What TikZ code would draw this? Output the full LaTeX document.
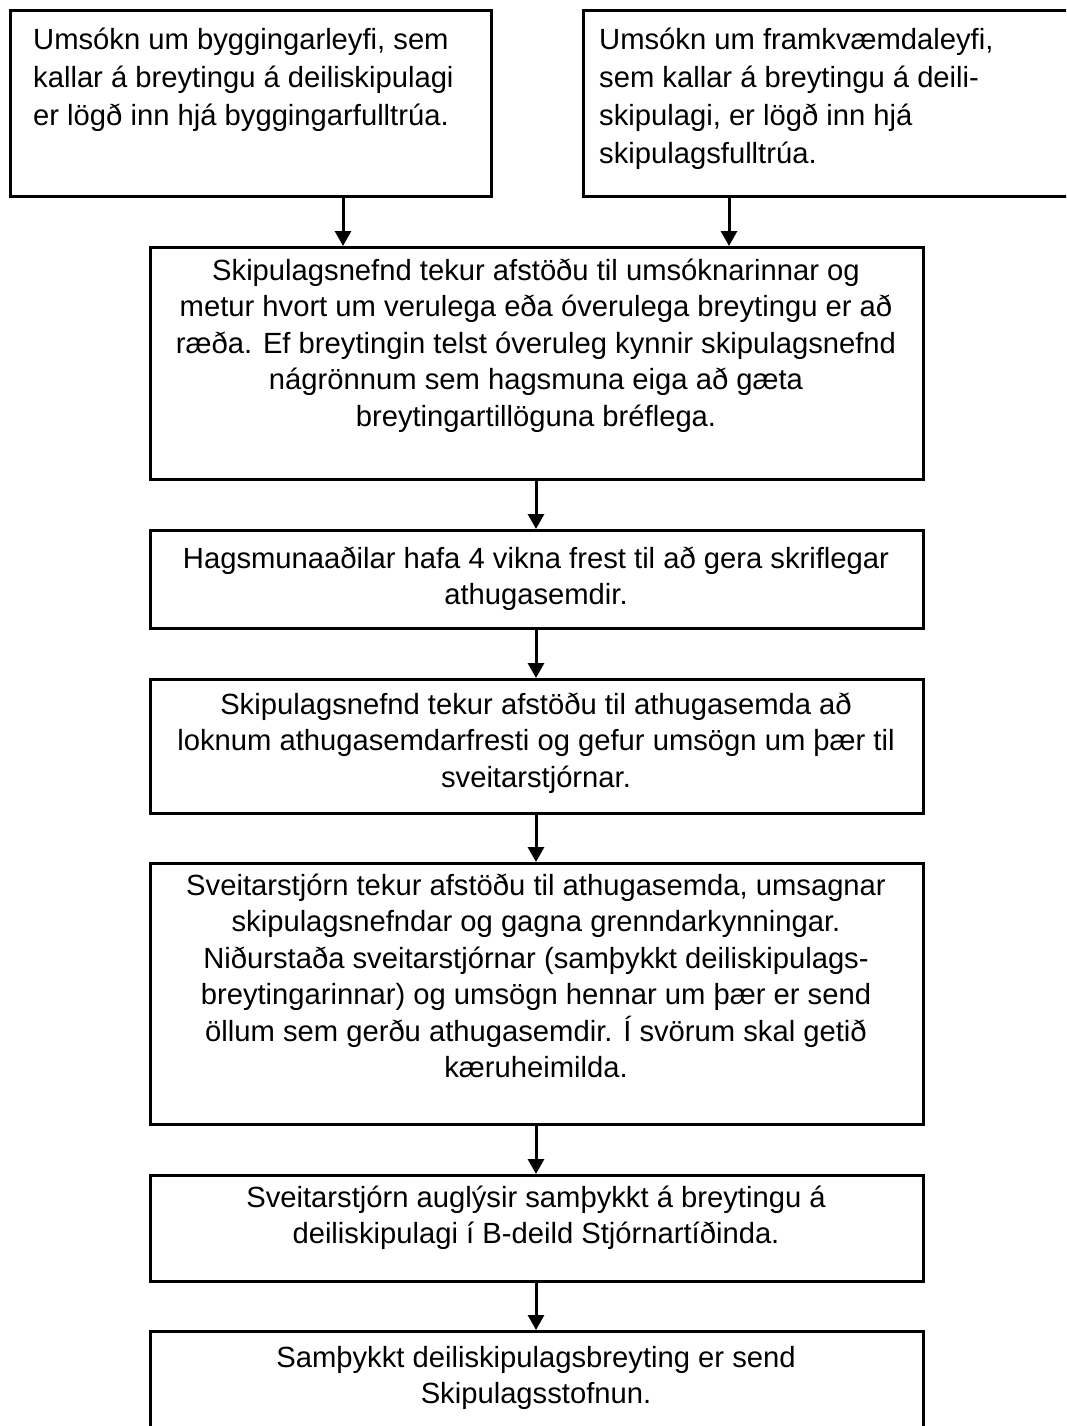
\documentclass[tikz,border=0pt]{standalone}
\usepackage{fontspec}
\setmainfont{Liberation Sans}
\usetikzlibrary{arrows.meta}
\begin{document}
\begin{tikzpicture}[x=1pt,y=-1pt,
  box/.style={draw, line width=3pt, inner sep=0pt, anchor=north west},
  txt/.style={inner sep=0pt, font=\fontsize{29.2}{36.5}\selectfont},
  toptxt/.style={inner sep=0pt, font=\fontsize{29.2}{38}\selectfont},
  arr/.style={line width=3pt, -{Triangle[width=16pt,length=15pt]}}]
\useasboundingbox (0,0) rectangle (1066,1426);
\clip (0,0) rectangle (1066,1426);
% boxes
\node[box, minimum width=481pt, minimum height=186pt] (b1) at (9,9) {};
\node[box, minimum width=500pt, minimum height=186pt] (b2) at (582,9) {};
\node[box, minimum width=773pt, minimum height=232pt] (b3) at (149,246) {};
\node[box, minimum width=773pt, minimum height=98pt]  (b4) at (149,529) {};
\node[box, minimum width=773pt, minimum height=134pt] (b5) at (149,678) {};
\node[box, minimum width=773pt, minimum height=261pt] (b6) at (149,862) {};
\node[box, minimum width=773pt, minimum height=106pt] (b7) at (149,1174) {};
\node[box, minimum width=773pt, minimum height=130pt] (b8) at (149,1330) {};
% texts
\node[toptxt, anchor=base west] (t1) at (33,50) {\begin{tabular}[t]{@{}l@{}}Umsókn um byggingarleyfi, sem\\kallar á breytingu á deiliskipulagi\\er lögð inn hjá byggingarfulltrúa.\end{tabular}};
\node[toptxt, anchor=base west] (t2) at (599,50) {\begin{tabular}[t]{@{}l@{}}Umsókn um framkvæmdaleyfi,\\sem kallar á breytingu á deili-\\skipulagi, er lögð inn hjá\\skipulagsfulltrúa.\end{tabular}};
\node[txt, anchor=base] (t3) at (536,280) {\begin{tabular}[t]{@{}c@{}}Skipulagsnefnd tekur afstöðu til umsóknarinnar og\\metur hvort um verulega eða óverulega breytingu er að\\ræða. Ef breytingin telst óveruleg kynnir skipulagsnefnd\\nágrönnum sem hagsmuna eiga að gæta\\breytingartillöguna bréflega.\end{tabular}};
\node[txt, anchor=base] (t4) at (536,568) {\begin{tabular}[t]{@{}c@{}}Hagsmunaaðilar hafa 4 vikna frest til að gera skriflegar\\athugasemdir.\end{tabular}};
\node[txt, anchor=base] (t5) at (536,714) {\begin{tabular}[t]{@{}c@{}}Skipulagsnefnd tekur afstöðu til athugasemda að\\loknum athugasemdarfresti og gefur umsögn um þær til\\sveitarstjórnar.\end{tabular}};
\node[txt, anchor=base] (t6) at (536,895) {\begin{tabular}[t]{@{}c@{}}Sveitarstjórn tekur afstöðu til athugasemda, umsagnar\\skipulagsnefndar og gagna grenndarkynningar.\\Niðurstaða sveitarstjórnar (samþykkt deiliskipulags-\\breytingarinnar) og umsögn hennar um þær er send\\öllum sem gerðu athugasemdir. Í svörum skal getið\\kæruheimilda.\end{tabular}};
\node[txt, anchor=base] (t7) at (536,1207) {\begin{tabular}[t]{@{}c@{}}Sveitarstjórn auglýsir samþykkt á breytingu á\\deiliskipulagi í B-deild Stjórnartíðinda.\end{tabular}};
\node[txt, anchor=base] (t8) at (536,1367) {\begin{tabular}[t]{@{}c@{}}Samþykkt deiliskipulagsbreyting er send\\Skipulagsstofnun.\end{tabular}};
% arrow x positions
\coordinate (xL) at (343,0);
\coordinate (xR) at (729,0);
\coordinate (xC) at (536,0);
\draw[arr] (b1.south -| xL) -- (b3.north -| xL);
\draw[arr] (b2.south -| xR) -- (b3.north -| xR);
\draw[arr] (b3.south -| xC) -- (b4.north -| xC);
\draw[arr] (b4.south -| xC) -- (b5.north -| xC);
\draw[arr] (b5.south -| xC) -- (b6.north -| xC);
\draw[arr] (b6.south -| xC) -- (b7.north -| xC);
\draw[arr] (b7.south -| xC) -- (b8.north -| xC);
\end{tikzpicture}
\end{document}
